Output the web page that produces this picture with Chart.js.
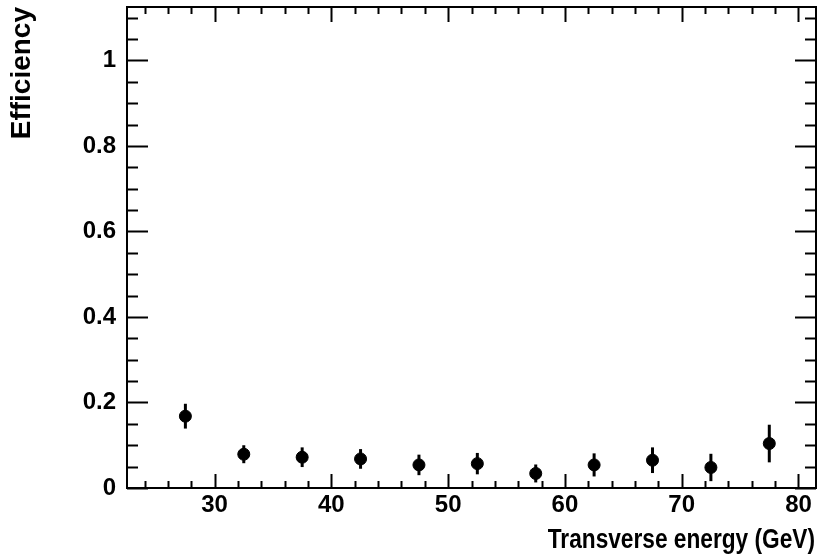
<!DOCTYPE html>
<html>
<head>
<meta charset="utf-8">
<script src="https://cdn.jsdelivr.net/npm/chart.js@4/dist/chart.umd.min.js"></script>
<style>
  html, body { margin: 0; padding: 0; background: #fff; }
  #wrap { width: 823px; height: 560px; }
</style>
</head>
<body>
<div id="wrap"><canvas id="c" width="823" height="560"></canvas></div>
<script>
// ---- data ----
const energy = [27.5, 32.5, 37.5, 42.5, 47.5, 52.5, 57.5, 62.5, 67.5, 72.5, 77.5];
const efficiency = [0.168, 0.079, 0.072, 0.068, 0.054, 0.057, 0.034, 0.054, 0.065, 0.048, 0.104];
const errorDown = [0.029, 0.021, 0.023, 0.023, 0.024, 0.025, 0.021, 0.027, 0.030, 0.032, 0.044];
const errorUp   = [0.029, 0.021, 0.023, 0.023, 0.024, 0.025, 0.021, 0.027, 0.030, 0.032, 0.044];
const xTickValues = [30, 40, 50, 60, 70, 80];
const xTickLabels = ['30', '40', '50', '60', '70', '80'];
const yTickValues = [0, 0.2, 0.4, 0.6, 0.8, 1];
const yTickLabels = ['0', '0.2', '0.4', '0.6', '0.8', '1'];
const xTitle = 'Transverse energy (GeV)';
const yTitle = 'Efficiency';

const X_MIN = 22.5, X_MAX = 81.5, Y_MIN = 0, Y_MAX = 1.125;
const X_MINOR = 2, Y_MINOR = 0.05;
const FONT = 'Liberation Sans, Arial, Helvetica, sans-serif';

const points = energy.map((e, i) => ({ x: e, y: efficiency[i] }));

const framePlugin = {
  id: 'frameTicks',
  afterDatasetsDraw(chart) {
    const { ctx, chartArea: a, scales: { x, y } } = chart;
    ctx.save();
    ctx.strokeStyle = '#000';
    // error bars
    ctx.lineWidth = 3;
    ctx.lineCap = 'butt';
    energy.forEach((e, i) => {
      const px = x.getPixelForValue(e);
      ctx.beginPath();
      ctx.moveTo(px, y.getPixelForValue(efficiency[i] - errorDown[i]));
      ctx.lineTo(px, y.getPixelForValue(efficiency[i] + errorUp[i]));
      ctx.stroke();
    });
    // frame
    ctx.lineWidth = 2;
    ctx.strokeRect(a.left, a.top, a.right - a.left, a.bottom - a.top);
    const tick = (x1, y1, x2, y2) => { ctx.beginPath(); ctx.moveTo(x1, y1); ctx.lineTo(x2, y2); ctx.stroke(); };
    for (let v = Math.ceil(X_MIN / X_MINOR) * X_MINOR; v <= X_MAX + 1e-9; v += X_MINOR) {
      const px = Math.round(x.getPixelForValue(v)) + 0.5;
      const major = xTickValues.some(t => Math.abs(t - v) < 1e-6);
      const lb = major ? 14 : 7, lt = major ? 15 : 7;
      tick(px, a.bottom, px, a.bottom - lb);
      tick(px, a.top, px, a.top + lt);
    }
    for (let i = 0; Y_MIN + i * Y_MINOR <= Y_MAX + 1e-9; i++) {
      const v = Y_MIN + i * Y_MINOR;
      const py = Math.round(y.getPixelForValue(v)) + 0.5;
      const major = yTickValues.some(t => Math.abs(t - v) < 1e-6);
      const l = major ? 21 : 11;
      tick(a.left, py, a.left + l, py);
      tick(a.right, py, a.right - l, py);
    }
    // x axis title (condensed bold, right aligned to frame)
    ctx.fillStyle = '#000';
    ctx.font = 'bold 28px ' + FONT;
    ctx.textAlign = 'right';
    ctx.textBaseline = 'alphabetic';
    ctx.translate(a.right - 1, 548);
    ctx.scale(0.81, 1);
    ctx.fillText(xTitle, 0, 0);
    ctx.restore();
  }
};

new Chart(document.getElementById('c'), {
  type: 'scatter',
  data: {
    datasets: [{
      data: points,
      backgroundColor: '#000',
      borderColor: '#000',
      pointRadius: 6,
      pointBorderWidth: 1,
      pointHoverRadius: 6
    }]
  },
  options: {
    responsive: false,
    animation: false,
    devicePixelRatio: 1,
    layout: { padding: { top: 5, right: 5, left: 0, bottom: 0 } },
    plugins: { legend: { display: false }, tooltip: { enabled: false } },
    scales: {
      x: {
        type: 'linear',
        min: X_MIN, max: X_MAX,
        grid: { display: false, drawTicks: false },
        border: { display: false },
        afterBuildTicks(s) { s.ticks = xTickValues.map(v => ({ value: v })); },
        afterFit(s) { s.height = 72; s.paddingLeft = 0; s.paddingRight = 0; },
        ticks: {
          padding: 3,
          color: '#000',
          maxRotation: 0,
          font: { family: FONT, size: 24, weight: 'bold' },
          callback: (v) => { const i = xTickValues.indexOf(v); return i >= 0 ? xTickLabels[i] : ''; }
        },
        title: { display: false, text: xTitle }
      },
      y: {
        type: 'linear',
        min: Y_MIN, max: Y_MAX,
        grid: { display: false, drawTicks: false },
        border: { display: false },
        afterBuildTicks(s) { s.ticks = yTickValues.map(v => ({ value: v })); },
        afterFit(s) { s.width = 127; s.paddingTop = 0; s.paddingBottom = 0; },
        ticks: {
          padding: 11,
          color: '#000',
          font: { family: FONT, size: 24, weight: 'bold' },
          callback: (v) => { const i = yTickValues.findIndex(t => Math.abs(t - v) < 1e-9); return i >= 0 ? yTickLabels[i] : ''; }
        },
        title: {
          display: true, text: yTitle, align: 'end', color: '#000',
          font: { family: FONT, size: 28, weight: 'bold' },
          padding: { top: 5, bottom: 0 }
        }
      }
    }
  },
  plugins: [framePlugin]
});
</script>
</body>
</html>
